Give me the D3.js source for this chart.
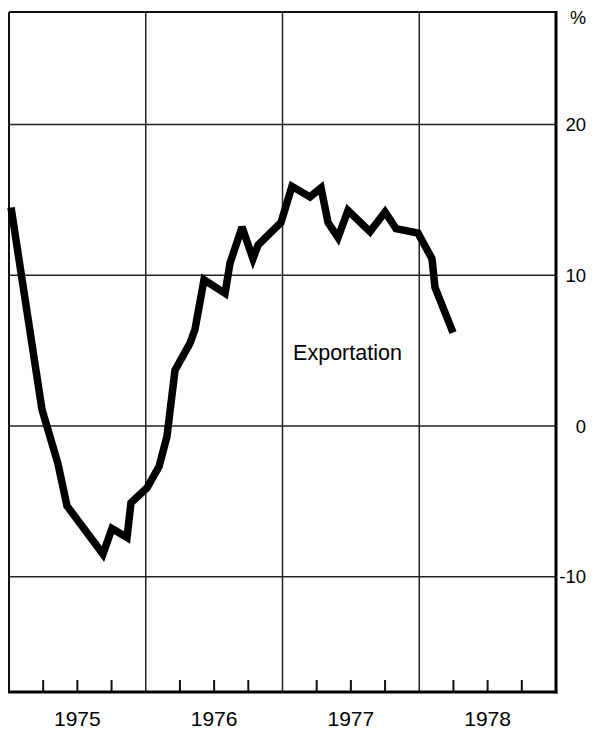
<!DOCTYPE html>
<html>
<head>
<meta charset="utf-8">
<script src="https://cdn.jsdelivr.net/npm/d3@7"></script>
<style>
  html, body { margin: 0; padding: 0; background: #fff; }
  svg { display: block; }
  text { font-family: "Liberation Sans", Arial, Helvetica, sans-serif; fill: #000; }
</style>
</head>
<body>
<script>
// ---- data ----
const dates = [1975.015, 1975.241, 1975.358, 1975.424, 1975.687, 1975.753, 1975.863, 1975.892,
  1976.009, 1976.097, 1976.155, 1976.214, 1976.324, 1976.360, 1976.426, 1976.580, 1976.616,
  1976.704, 1976.784, 1976.821, 1976.989, 1977.069, 1977.201, 1977.282, 1977.333, 1977.406,
  1977.479, 1977.640, 1977.750, 1977.830, 1977.991, 1978.093, 1978.115, 1978.247];
const exportation = [14.5, 1.1, -2.5, -5.3, -8.5, -6.8, -7.4, -5.1,
  -4.1, -2.7, -0.7, 3.7, 5.5, 6.4, 9.7, 8.8, 10.8,
  13.2, 11.1, 12.0, 13.5, 15.9, 15.2, 15.8, 13.5, 12.5,
  14.3, 12.9, 14.2, 13.1, 12.8, 11.1, 9.2, 6.2];
const yearLabels = ["1975", "1976", "1977", "1978"];
const yTicks = [-10, 0, 10, 20];
const seriesLabel = "Exportation";
const unitLabel = "%";

// ---- layout ----
const W = 604, H = 729;
const mLeft = 9, mRight = 556, mTop = 12, mBottom = 692;

const svg = d3.select("body").append("svg").attr("width", W).attr("height", H);

const x = d3.scaleLinear().domain([1975, 1979]).range([mLeft, mRight]);
const y = d3.scaleLinear().domain([-17.65, 27.47]).range([mBottom, mTop]);

// horizontal gridlines
svg.append("g").selectAll("line").data(yTicks).join("line")
  .attr("x1", mLeft).attr("x2", mRight)
  .attr("y1", d => y(d)).attr("y2", d => y(d))
  .attr("stroke", "#222").attr("stroke-width", 1.5);

// vertical year lines
const yearBounds = [1976, 1977, 1978];
svg.append("g").selectAll("line").data(yearBounds).join("line")
  .attr("x1", d => x(d)).attr("x2", d => x(d))
  .attr("y1", mTop).attr("y2", mBottom)
  .attr("stroke", "#222").attr("stroke-width", 1.5);

// quarter ticks at bottom
const quarters = [];
for (let yr = 1975; yr < 1979; yr++) for (let q = 1; q < 4; q++) quarters.push(yr + q / 4);
svg.append("g").selectAll("line").data(quarters).join("line")
  .attr("x1", d => x(d)).attr("x2", d => x(d))
  .attr("y1", mBottom - 12).attr("y2", mBottom)
  .attr("stroke", "#111").attr("stroke-width", 2);

// frame
svg.append("line").attr("x1", mLeft).attr("x2", mRight).attr("y1", mTop).attr("y2", mTop)
  .attr("stroke", "#111").attr("stroke-width", 2);
svg.append("line").attr("x1", mLeft).attr("x2", mLeft).attr("y1", mTop).attr("y2", mBottom)
  .attr("stroke", "#111").attr("stroke-width", 2);
svg.append("line").attr("x1", mRight).attr("x2", mRight).attr("y1", mTop - 1).attr("y2", mBottom + 1.5)
  .attr("stroke", "#000").attr("stroke-width", 3);
svg.append("line").attr("x1", mLeft - 1).attr("x2", mRight + 1.5).attr("y1", mBottom).attr("y2", mBottom)
  .attr("stroke", "#000").attr("stroke-width", 3);

// y labels (right side)
svg.append("g").selectAll("text").data(yTicks).join("text")
  .attr("x", 586).attr("y", d => y(d))
  .attr("dy", "0.36em")
  .attr("text-anchor", "end")
  .attr("font-size", 18.5)
  .text(d => d);

svg.append("text").attr("x", 578).attr("y", 18).attr("dy", "0.36em")
  .attr("text-anchor", "middle").attr("font-size", 18).text(unitLabel);

// year labels
svg.append("g").selectAll("text").data(yearLabels).join("text")
  .attr("x", (d, i) => x(1975 + i + 0.5))
  .attr("y", 718).attr("dy", "0.36em")
  .attr("text-anchor", "middle")
  .attr("font-size", 21)
  .text(d => d);

// series line
const pts = dates.map((d, i) => [d, exportation[i]]);
svg.append("path")
  .datum(pts)
  .attr("fill", "none")
  .attr("stroke", "#000")
  .attr("stroke-width", 7.5)
  .attr("stroke-linejoin", "miter")
  .attr("stroke-miterlimit", 3)
  .attr("stroke-linecap", "butt")
  .attr("d", d3.line().x(d => x(d[0])).y(d => y(d[1])));

// series label
svg.append("text").attr("x", 347.5).attr("y", 352).attr("dy", "0.36em")
  .attr("text-anchor", "middle").attr("font-size", 21.5).text(seriesLabel);
</script>
</body>
</html>
